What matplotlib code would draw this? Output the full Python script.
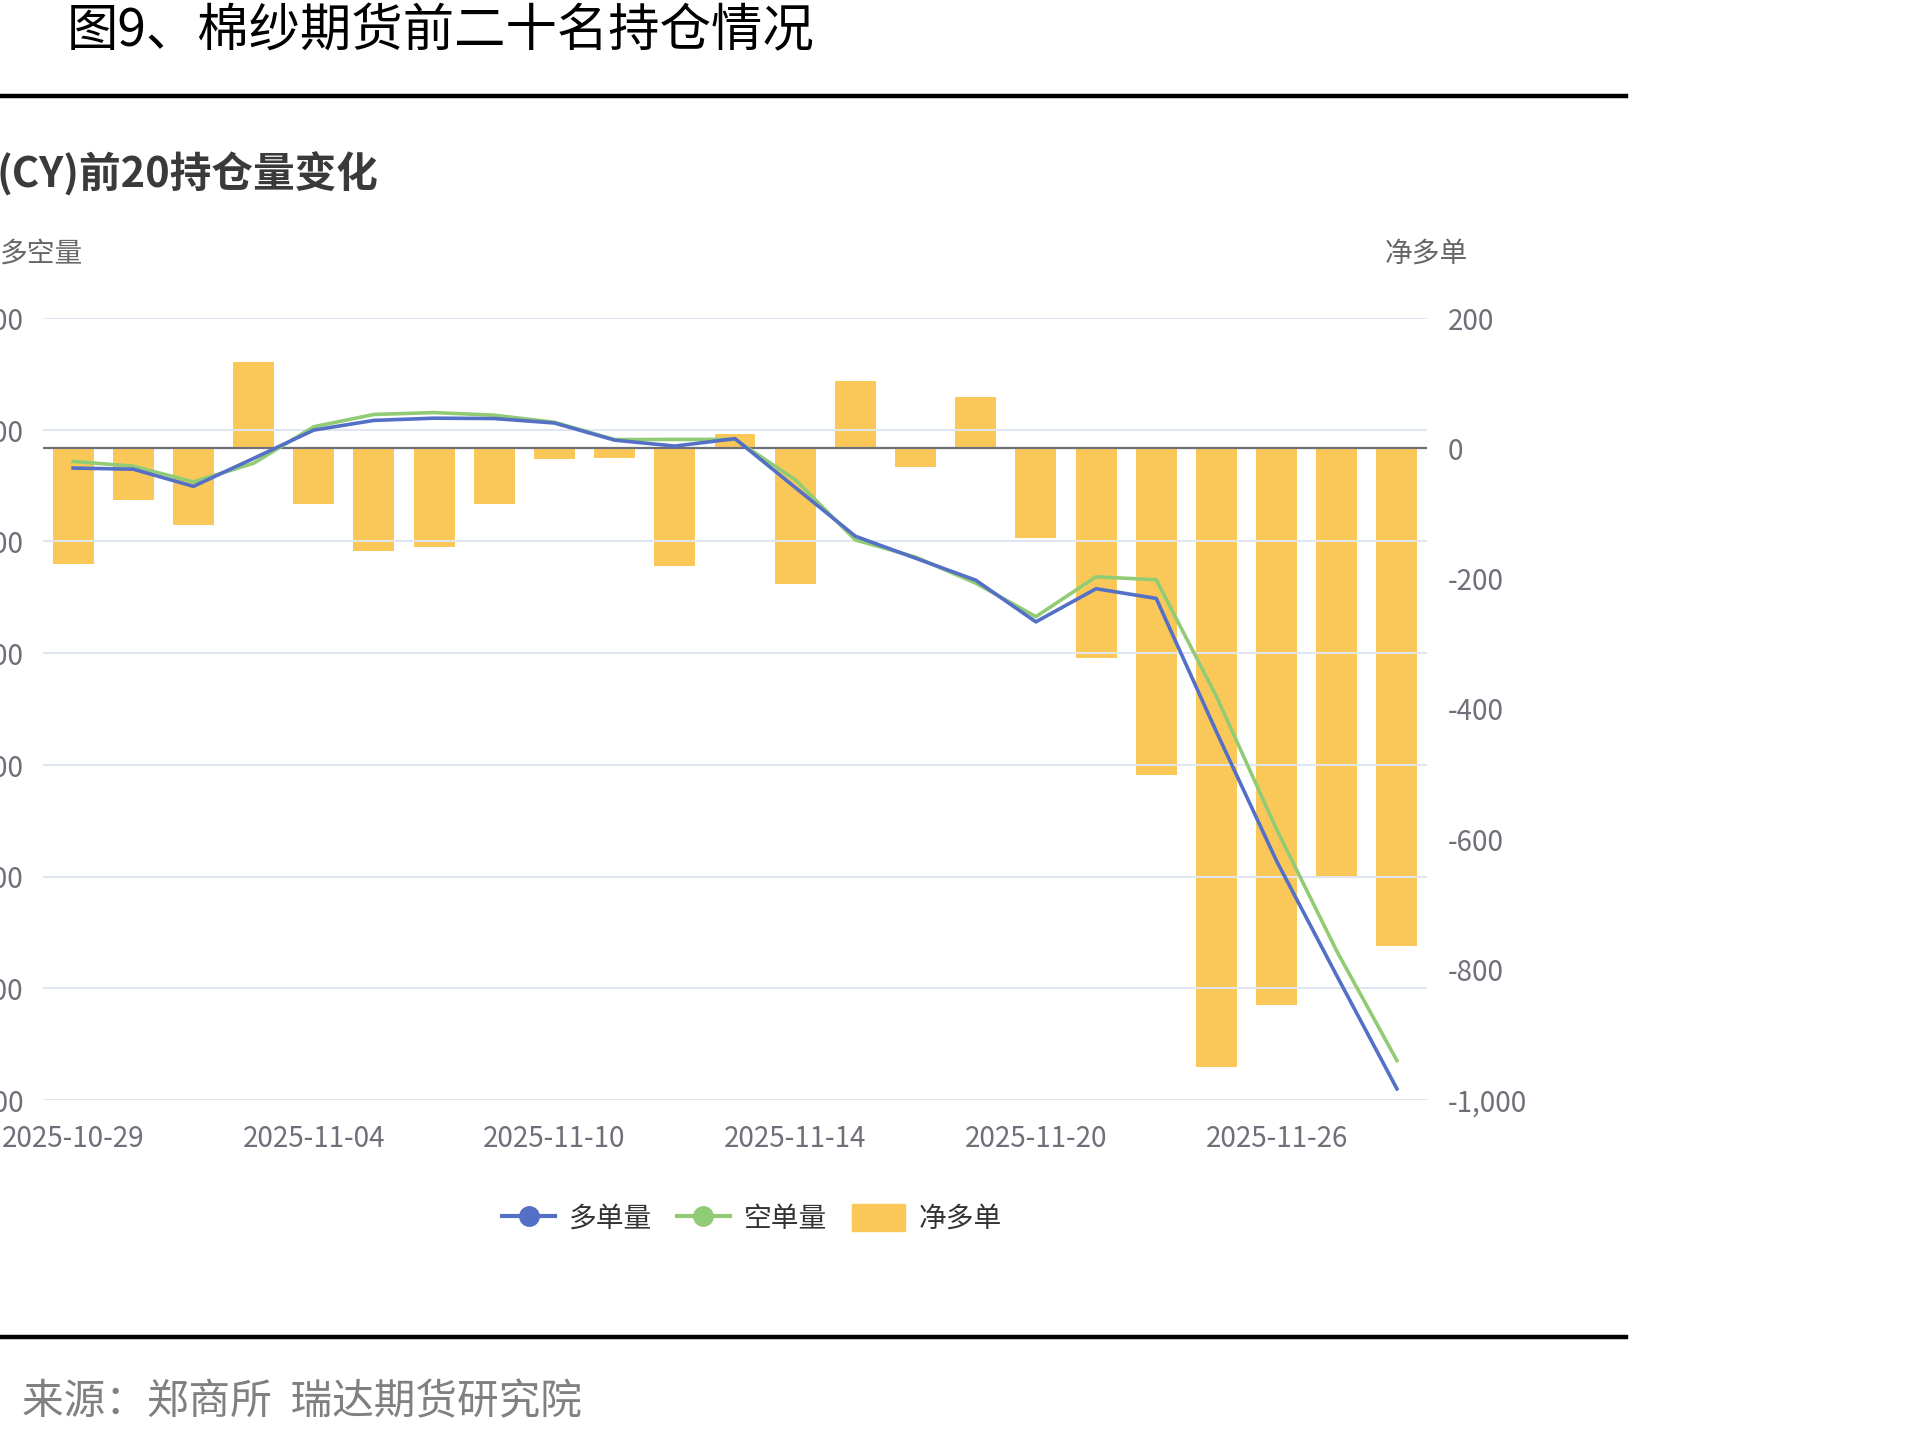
import matplotlib
matplotlib.use("Agg")
import matplotlib.pyplot as plt
from matplotlib.lines import Line2D
from matplotlib.patches import Patch
from matplotlib.ticker import FuncFormatter

plt.rcParams['font.family'] = ['Noto Sans CJK SC', 'DejaVu Sans']
plt.rcParams['axes.unicode_minus'] = False

# categories (trading days)
dates = ["2025-10-29", "2025-10-30", "2025-10-31", "2025-11-03", "2025-11-04",
         "2025-11-05", "2025-11-06", "2025-11-07", "2025-11-10", "2025-11-11",
         "2025-11-12", "2025-11-13", "2025-11-14", "2025-11-17", "2025-11-18",
         "2025-11-19", "2025-11-20", "2025-11-21", "2025-11-24", "2025-11-25",
         "2025-11-26", "2025-11-27", "2025-11-28"]

# long / short positions of top 20 (left axis)
long_pos = [19970, 19940, 19480, 20230, 20990, 21250, 21310, 21300, 21180, 20720,
            20560, 20760, 19450, 18140, 17550, 16960, 15840, 16730, 16470, 12890,
            9420, 6340, 3300]
short_pos = [20150, 20020, 19600, 20100, 21080, 21410, 21460, 21390, 21200, 20735,
             20740, 20740, 19660, 18040, 17580, 16880, 15980, 17050, 16970, 13840,
             10270, 7000, 4060]
# net long (right axis)
net_long = [-178, -79, -118, 133, -86, -157, -152, -86, -17, -15,
            -180, 22, -208, 103, -28, 79, -137, -322, -502, -949,
            -854, -659, -764]

left_ticks = [3000, 6000, 9000, 12000, 15000, 18000, 21000, 24000]
right_ticks = [-1000, -800, -600, -400, -200, 0, 200]

BLUE = '#5470C6'
GREEN = '#91CC75'
YELLOW = '#FAC858'
LABEL = '#6E7079'
GRID = '#E0E6F1'

W, H = 1913, 1439
fig = plt.figure(figsize=(W / 100, H / 100), dpi=100)

ax = fig.add_axes([43 / W, 1 - 1100 / H, (1427 - 43) / W, (1100 - 318) / H])
ax2 = ax.twinx()

x = list(range(len(dates)))

# bars on right axis
ax2.bar(x, net_long, width=0.68, color=YELLOW, zorder=2)
ax2.axhline(0, color=LABEL, lw=1.6, zorder=3)
ax2.set_ylim(-1000, 200)
ax2.set_yticks(right_ticks)
ax2.yaxis.set_major_formatter(FuncFormatter(lambda v, p: f"{int(v):,}"))
ax2.tick_params(axis='y', length=0, pad=15, labelsize=20, labelcolor=LABEL)

# lines on left axis
ax.plot(x, long_pos, color=BLUE, lw=2.6, zorder=5)
ax.plot(x, short_pos, color=GREEN, lw=2.6, zorder=4)
ax.set_ylim(3000, 24000)
ax.set_yticks(left_ticks)
ax.yaxis.set_major_formatter(FuncFormatter(lambda v, p: f"{int(v):,}"))
ax.tick_params(axis='y', length=0, pad=14, labelsize=20, labelcolor=LABEL)
ax.grid(axis='y', color=GRID, lw=1.4)
ax.set_axisbelow(True)
ax.set_xlim(-0.5, len(dates) - 0.5)
ax.set_xticks(x[::4])
ax.set_xticklabels(dates[::4])
ax.tick_params(axis='x', length=0, pad=17, labelsize=20, labelcolor=LABEL)

ax.set_zorder(ax2.get_zorder() + 1)
ax.patch.set_visible(False)
for a in (ax, ax2):
    for s in a.spines.values():
        s.set_visible(False)

# axis names
fig.text(0, 1 - 254 / H, "多空量", fontsize=20, color='#666666', ha='left', va='center')
fig.text(1385 / W, 1 - 254 / H, "净多单", fontsize=20, color='#666666', ha='left', va='center')

# titles
fig.text(67 / W, 1 - 31 / H, "图9、棉纱期货前二十名持仓情况", fontsize=37, color='black',
         ha='left', va='center')
fig.text(-0.002, 1 - 174 / H, "(CY)前20持仓量变化", fontsize=30, fontweight='bold',
         color='#3a3a3a', ha='left', va='center')

# rule lines
fig.add_artist(Line2D([0, 1626 / W], [1 - 96 / H, 1 - 96 / H], color='black', lw=3.2,
                      transform=fig.transFigure))
fig.add_artist(Line2D([0, 1626 / W], [1 - 1337 / H, 1 - 1337 / H], color='black', lw=3.2,
                      transform=fig.transFigure))

# legend
handles = [Line2D([], [], color=BLUE, lw=3, marker='o', markersize=14),
           Line2D([], [], color=GREEN, lw=3, marker='o', markersize=14),
           Patch(facecolor=YELLOW, edgecolor=YELLOW)]
fig.legend(handles, ["多单量", "空单量", "净多单"], loc='center',
           bbox_to_anchor=(752 / W, 1 - 1219 / H), ncol=3, frameon=False,
           fontsize=20, handlelength=1.9, handleheight=1.1, handletextpad=0.5,
           columnspacing=0.9, labelcolor='#333333')

# source
fig.text(22 / W, 1 - 1403 / H, "来源：郑商所  瑞达期货研究院", fontsize=30, color='#808080',
         ha='left', va='center')

fig.savefig("out.png", dpi=100)
